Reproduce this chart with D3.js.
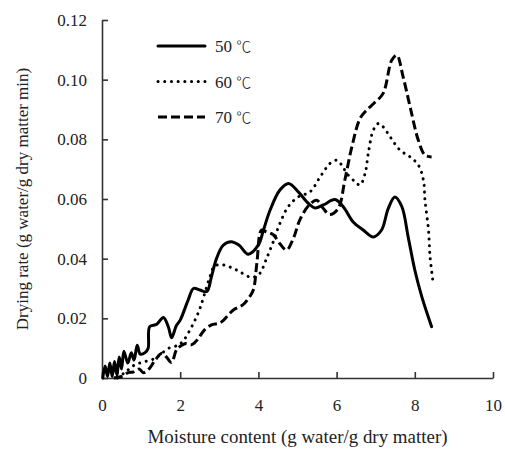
<!DOCTYPE html>
<html>
<head>
<meta charset="utf-8">
<script src="https://cdn.jsdelivr.net/npm/d3@7"></script>
<style>
  html, body { margin: 0; padding: 0; background: #fff; }
  svg text { font-family: "Liberation Serif", "Times New Roman", serif; fill: #222; }
</style>
</head>
<body>
<svg id="chart" width="505" height="450"></svg>
<script>
// Drying rate vs. moisture content at three air temperatures
const seriesTemps = ["50", "60", "70"];
const tempUnit = "\u2103";

// [moisture content, drying rate]
const rate50 = [
  [0.02,0],[0.08,0.004],[0.14,0.0005],[0.2,0.005],[0.26,0.0005],[0.32,0.0055],[0.38,0.001],
  [0.44,0.007],[0.5,0.003],[0.56,0.009],[0.66,0.005],[0.75,0.0085],[0.82,0.006],[0.9,0.011],
  [0.98,0.008],[1.1,0.0085],[1.18,0.01],[1.22,0.0172],[1.4,0.018],[1.57,0.0203],[1.7,0.017],
  [1.78,0.0135],[1.9,0.0175],[2.0,0.0194],[2.2,0.026],[2.34,0.03],[2.5,0.0295],[2.68,0.029],
  [2.8,0.034],[2.93,0.0401],[3.1,0.0445],[3.3,0.0457],[3.5,0.0446],[3.74,0.0415],[4.0,0.0446],
  [4.13,0.0496],[4.3,0.0563],[4.55,0.063],[4.77,0.0652],[5.02,0.0624],[5.28,0.0585],[5.45,0.057],
  [5.66,0.058],[5.96,0.0598],[6.17,0.0574],[6.43,0.0522],[6.68,0.0496],[6.94,0.0473],[7.15,0.0496],
  [7.32,0.0568],[7.49,0.0607],[7.67,0.0574],[7.83,0.0473],[8.0,0.0362],[8.18,0.0272],[8.43,0.0172]
];
const rate60 = [
  [0.4,0],[0.6,0.002],[0.84,0.0044],[1.1,0.0055],[1.36,0.0066],[1.53,0.0083],[1.74,0.0102],
  [1.95,0.011],[2.08,0.0125],[2.25,0.0161],[2.4,0.02],[2.51,0.0235],[2.62,0.028],[2.75,0.0335],
  [2.88,0.0375],[3.1,0.0379],[3.44,0.0362],[3.79,0.0338],[3.92,0.034],[4.04,0.0351],[4.21,0.0401],
  [4.38,0.0457],[4.55,0.0518],[4.76,0.0574],[5.02,0.0607],[5.32,0.0624],[5.58,0.0674],[5.83,0.0719],
  [6.0,0.073],[6.13,0.0714],[6.26,0.0686],[6.47,0.0658],[6.6,0.0647],[6.73,0.0686],[6.81,0.0753],
  [6.94,0.0831],[7.07,0.0853],[7.19,0.0842],[7.37,0.0808],[7.62,0.0764],[7.88,0.0741],[8.09,0.0714],
  [8.22,0.0663],[8.26,0.0596],[8.35,0.0496],[8.39,0.0406],[8.46,0.0328]
];
const rate70 = [
  [0.3,0],[0.5,0.0005],[0.67,0.0018],[0.8,0.002],[0.95,0.003],[1.06,0.0018],[1.2,0.003],
  [1.36,0.006],[1.53,0.0083],[1.65,0.007],[1.78,0.0052],[1.91,0.0095],[2.12,0.0115],[2.3,0.0112],
  [2.45,0.013],[2.6,0.0158],[2.8,0.0178],[3.02,0.0185],[3.36,0.0228],[3.6,0.0245],[3.75,0.0268],
  [3.87,0.0295],[3.96,0.0384],[4.08,0.0496],[4.2,0.049],[4.38,0.048],[4.55,0.045],[4.72,0.0429],
  [4.9,0.047],[5.06,0.053],[5.3,0.058],[5.49,0.0596],[5.65,0.057],[5.82,0.0548],[6.04,0.0568],
  [6.21,0.0663],[6.39,0.0775],[6.6,0.087],[6.77,0.0898],[6.95,0.092],[7.19,0.0954],[7.41,0.1065],
  [7.54,0.1082],[7.7,0.101],[7.88,0.0909],[8.09,0.0797],[8.26,0.0747],[8.43,0.0741]
];

const xTicks = [0, 2, 4, 6, 8, 10];
const yTicks = [0, 0.02, 0.04, 0.06, 0.08, 0.10, 0.12];
const yTickLabels = ["0", "0.02", "0.04", "0.06", "0.08", "0.10", "0.12"];

const xTitle = "Moisture content (g water/g dry matter)";
const yTitle = "Drying rate (g water/g dry matter min)";

const styles = [
  { dash: null, cap: "round" },
  { dash: "0.1 6.6", cap: "round" },
  { dash: "9 4", cap: "butt" }
];

const svg = d3.select("#chart");
const plotLeft = 102, plotRight = 493, plotTop = 20, plotBottom = 378;

const x = d3.scaleLinear().domain([0, 10]).range([plotLeft, plotRight]);
const y = d3.scaleLinear().domain([0, 0.12]).range([plotBottom, plotTop]);

// axes with inward ticks
const xAxis = d3.axisBottom(x).tickValues(xTicks).tickSizeInner(-6).tickSizeOuter(0).tickPadding(21).tickFormat(d3.format("d"));
const yAxis = d3.axisLeft(y).tickValues(yTicks).tickSizeInner(-6).tickSizeOuter(0).tickPadding(15)
  .tickFormat((d, i) => yTickLabels[i]);

const gx = svg.append("g").attr("transform", `translate(0,${plotBottom})`).call(xAxis);
const gy = svg.append("g").attr("transform", `translate(${plotLeft},0)`).call(yAxis);
[gx, gy].forEach(g => {
  g.select(".domain").attr("stroke", "#333").attr("stroke-width", 1.6);
  g.selectAll(".tick line").attr("stroke", "#333").attr("stroke-width", 1.6);
  g.selectAll(".tick text").attr("font-family", "Liberation Serif, serif").attr("font-size", 17).attr("fill", "#222");
});

// curves
const line = d3.line().x(d => x(d[0])).y(d => y(d[1])).curve(d3.curveCatmullRom.alpha(0.5));
[rate50, rate60, rate70].forEach((data, i) => {
  svg.append("path")
    .datum(data)
    .attr("d", line)
    .attr("fill", "none")
    .attr("stroke", "#000")
    .attr("stroke-width", 3)
    .attr("stroke-linecap", styles[i].cap)
    .attr("stroke-linejoin", "round")
    .attr("stroke-dasharray", styles[i].dash);
});

// legend
const legend = svg.append("g");
seriesTemps.forEach((t, i) => {
  const ly = 46 + i * 35.5;
  legend.append("line")
    .attr("x1", 158).attr("x2", 205).attr("y1", ly).attr("y2", ly)
    .attr("stroke", "#000").attr("stroke-width", 3)
    .attr("stroke-linecap", styles[i].cap)
    .attr("stroke-dasharray", styles[i].dash);
  const txt = legend.append("text")
    .attr("x", 215).attr("y", ly + 6)
    .attr("font-size", 17);
  txt.append("tspan").text(t + " ");
  txt.append("tspan")
    .attr("font-family", "Noto Sans CJK SC, sans-serif")
    .attr("font-size", 15)
    .attr("font-weight", 300)
    .text(tempUnit);
});

// axis titles
svg.append("text")
  .attr("x", (plotLeft + plotRight) / 2).attr("y", 443)
  .attr("text-anchor", "middle").attr("font-size", 18)
  .attr("textLength", 300).attr("lengthAdjust", "spacingAndGlyphs")
  .text(xTitle);
svg.append("text")
  .attr("transform", `translate(22,${(plotTop + plotBottom) / 2}) rotate(-90)`)
  .attr("text-anchor", "middle").attr("dominant-baseline", "central").attr("font-size", 17)
  .text(yTitle);
</script>
</body>
</html>
